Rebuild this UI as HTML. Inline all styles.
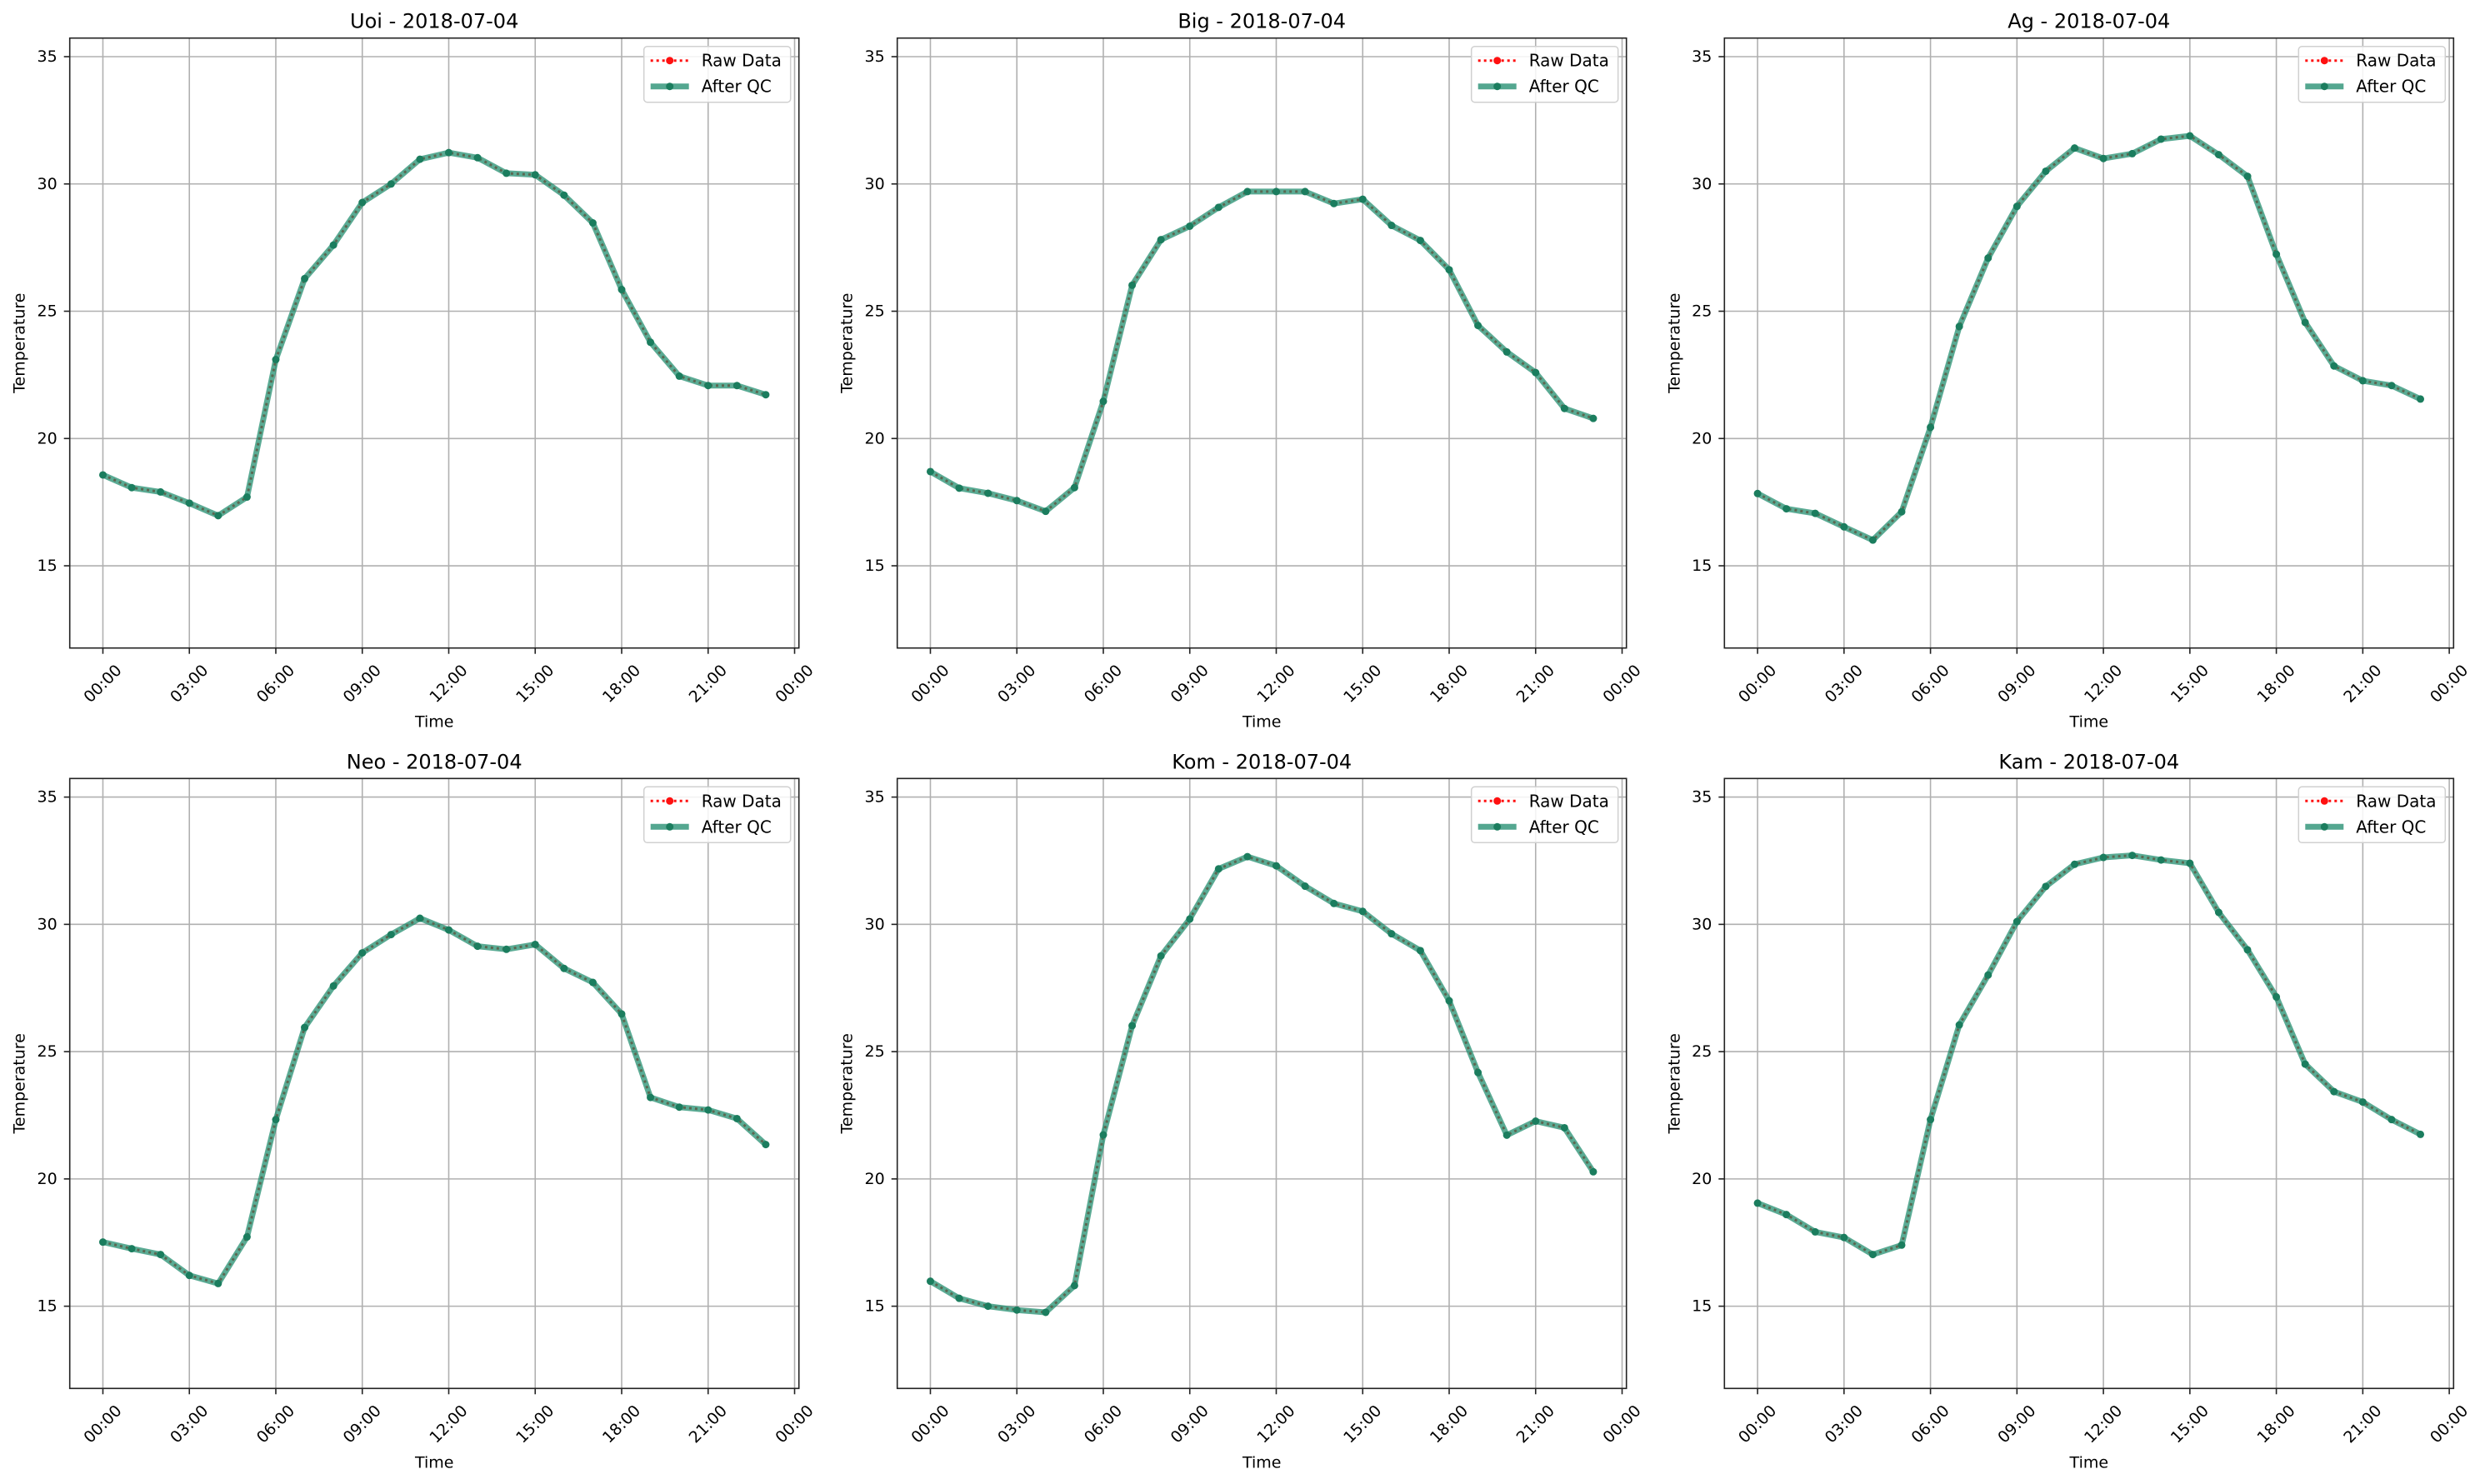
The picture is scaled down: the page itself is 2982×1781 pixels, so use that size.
<!DOCTYPE html>
<html><head><meta charset="utf-8">
<style>
html,body{margin:0;padding:0;background:#fff;}
svg{display:block;font-family:"DejaVu Sans","Liberation Sans",sans-serif;}
</style></head>
<body>
<svg id="fig" width="2982" height="1781" viewBox="0 0 2982 1781" xmlns="http://www.w3.org/2000/svg"></svg>
<script>
const stations = ["Uoi","Big","Ag","Neo","Kom","Kam"];
const dateLabel = "2018-07-04";
const hours = [0,1,2,3,4,5,6,7,8,9,10,11,12,13,14,15,16,17,18,19,20,21,22,23];
const xTickHours = [0,3,6,9,12,15,18,21,24];
const xTickLabels = ["00:00","03:00","06:00","09:00","12:00","15:00","18:00","21:00","00:00"];
const yTicks = [15,20,25,30,35];
const uoiTemps = [18.57,18.07,17.9,17.46,16.97,17.70,23.1,26.28,27.6,29.27,30.0,30.97,31.23,31.03,30.42,30.36,29.56,28.47,25.85,23.78,22.45,22.08,22.08,21.72];
const bigTemps = [18.70,18.05,17.85,17.56,17.14,18.07,21.46,26.02,27.81,28.34,29.08,29.70,29.70,29.70,29.23,29.40,28.37,27.78,26.63,24.44,23.40,22.59,21.18,20.79];
const agTemps  = [17.84,17.24,17.06,16.53,16.01,17.12,20.44,24.40,27.09,29.12,30.50,31.41,31.0,31.19,31.76,31.89,31.15,30.30,27.24,24.56,22.85,22.27,22.08,21.55];
const neoTemps = [17.52,17.26,17.03,16.21,15.89,17.72,22.33,25.95,27.58,28.88,29.60,30.24,29.78,29.14,29.02,29.21,28.27,27.72,26.48,23.20,22.82,22.71,22.37,21.35];
const komTemps = [15.98,15.31,15.0,14.85,14.76,15.81,21.73,26.02,28.76,30.21,32.18,32.66,32.30,31.50,30.82,30.51,29.63,28.97,27.0,24.18,21.72,22.27,22.01,20.28];
const kamTemps = [19.05,18.60,17.92,17.70,17.03,17.40,22.33,26.05,28.01,30.11,31.49,32.36,32.63,32.71,32.53,32.40,30.47,29.0,27.15,24.51,23.43,23.02,22.33,21.75];
const rawSeries = [uoiTemps,bigTemps,agTemps,neoTemps,komTemps,kamTemps];
const qcSeries = [uoiTemps,bigTemps,agTemps,neoTemps,komTemps,kamTemps];

const NS="http://www.w3.org/2000/svg";
const svg=document.getElementById('fig');
const lefts=[83.7,1076.7,2069.3], tops=[45.7,934.3];
const W=875, H=732;
const xMin=-1.15, xMax=24.15, yMin=11.77, yMax=35.73;
function mk(tag,attrs,parent){const e=document.createElementNS(NS,tag);for(const k in attrs)e.setAttribute(k,attrs[k]);(parent||svg).appendChild(e);return e;}

stations.forEach((name,i)=>{
  const L=lefts[i%3], T=tops[Math.floor(i/3)];
  const xs=h=>L+(h-xMin)/(xMax-xMin)*W;
  const ys=v=>T+(yMax-v)/(yMax-yMin)*H;
  const g=mk('g',{});
  
  
  // grid
  xTickHours.forEach((h,k)=>{
    const x=xs(h);
    if(x<L+W){const gl=mk('line',{x1:x,x2:x,y1:T,y2:T+H,stroke:'#b0b0b0','stroke-width':1.6},g);
    
    }
    const tk=mk('line',{x1:x,x2:x,y1:T+H,y2:T+H+7,stroke:'#222','stroke-width':1.6},g);
    
    
    const t=mk('text',{transform:`translate(${x},${T+H+43}) rotate(-45)`,'text-anchor':'middle','dominant-baseline':'central','font-size':19,fill:'#000'},g);
    t.textContent=xTickLabels[k];
    
    
  });
  yTicks.forEach(v=>{
    const y=ys(v);
    const gl=mk('line',{x1:L,x2:L+W,y1:y,y2:y,stroke:'#b0b0b0','stroke-width':1.6},g);
    
    
    const tk=mk('line',{x1:L-7,x2:L,y1:y,y2:y,stroke:'#222','stroke-width':1.6},g);
    
    
    const t=mk('text',{x:L-15,y:y,'text-anchor':'end','dominant-baseline':'central','font-size':19,fill:'#000'},g);
    t.textContent=String(v);
    
    
  });
  // raw series
  const raw=rawSeries[i], qc=qcSeries[i];
  const rawPts=hours.map((h,k)=>xs(h)+','+ys(raw[k])).join(' ');
  const rl=mk('polyline',{points:rawPts,fill:'none',stroke:'#ff1010','stroke-width':3,'stroke-dasharray':'3,4'},g);
  
  
  hours.forEach((h,k)=>{
    const c=mk('circle',{cx:xs(h),cy:ys(raw[k]),r:4,fill:'#ff1010'},g);
    
    
  });
  const qcPts=hours.map((h,k)=>xs(h)+','+ys(qc[k])).join(' ');
  const ql=mk('polyline',{points:qcPts,fill:'none',stroke:'#1b8a6b','stroke-width':7,'stroke-opacity':0.72,'stroke-linejoin':'round'},g);
  
  
  hours.forEach((h,k)=>{
    const c=mk('circle',{cx:xs(h),cy:ys(qc[k]),r:4.5,fill:'#1b7d5e'},g);
    
    
  });
  // frame
  const fr=mk('rect',{x:L,y:T,width:W,height:H,fill:'none',stroke:'#222','stroke-width':1.6},g);
  
  
  // title & labels
  const ti=mk('text',{x:L+W/2,y:T-12,'text-anchor':'middle','font-size':24,fill:'#000'},g);
  ti.textContent=name+' - '+dateLabel;
  
  
  const xl=mk('text',{x:L+W/2,y:T+H+95,'text-anchor':'middle','font-size':19,fill:'#000'},g);
  xl.textContent='Time';
  
  
  const yl=mk('text',{transform:`translate(${L-60},${T+H/2}) rotate(-90)`,'text-anchor':'middle','dominant-baseline':'central','font-size':19,fill:'#000'},g);
  yl.textContent='Temperature';
  
  
  // legend
  const lg=mk('g',{},g);
  
  
  const bx=L+W-186, by=T+10;
  mk('rect',{x:bx,y:by,width:176,height:67,rx:4,fill:'#fff','fill-opacity':0.85,stroke:'#d0d0d0','stroke-width':1.5},lg);
  const r1=by+17, r2=by+48;
  const e1=mk('g',{},lg);
  
  
  mk('line',{x1:bx+8,x2:bx+54,y1:r1,y2:r1,stroke:'#ff1010','stroke-width':3,'stroke-dasharray':'3,4'},e1);
  mk('circle',{cx:bx+31,cy:r1,r:4.5,fill:'#ff1010'},e1);
  const t1=mk('text',{x:bx+69,y:r1,'dominant-baseline':'central','font-size':20,fill:'#000'},e1);
  t1.textContent='Raw Data';
  const e2=mk('g',{},lg);
  
  
  mk('line',{x1:bx+8,x2:bx+54,y1:r2,y2:r2,stroke:'#1b8a6b','stroke-width':7,'stroke-opacity':0.75},e2);
  mk('circle',{cx:bx+31,cy:r2,r:4.5,fill:'#1b7d5e'},e2);
  const t2=mk('text',{x:bx+69,y:r2,'dominant-baseline':'central','font-size':20,fill:'#000'},e2);
  t2.textContent='After QC';
});
</script>
</body></html>
